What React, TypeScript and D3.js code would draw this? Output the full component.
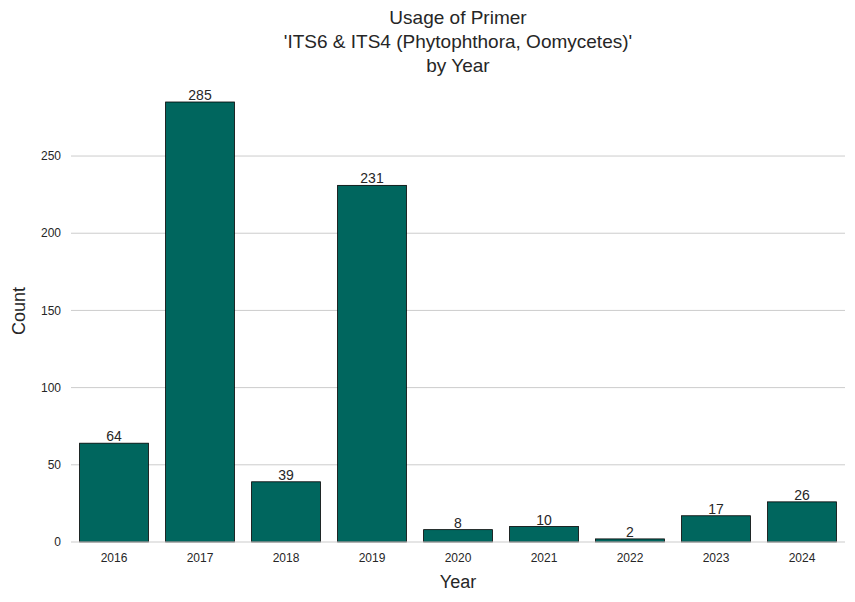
import React from "react";
import * as d3 from "d3";

const years = ["2016", "2017", "2018", "2019", "2020", "2021", "2022", "2023", "2024"];
const counts = [64, 285, 39, 231, 8, 10, 2, 17, 26];
const yTicks = [0, 50, 100, 150, 200, 250];
const titleLines = ["Usage of Primer", "'ITS6 & ITS4 (Phytophthora, Oomycetes)'", "by Year"];

const width = 855;
const height = 602;
const left = 71;
const right = 845;
const top = 80;
const bottom = 542;
const barColor = "#00665e";
const font = "'Liberation Sans', Arial, sans-serif";

export default function App() {
  const x = d3.scaleBand<string>().domain(years).range([left, right]).paddingInner(0.2).paddingOuter(0.1);
  const y = d3.scaleLinear().domain([0, d3.max(counts)! * 1.05]).range([bottom, top]);

  return (
    <svg width={width} height={height} style={{ position: "absolute", left: 0, top: 0, fontFamily: font }}>
      <rect width={width} height={height} fill="#fff" />
      {yTicks.map((t) => (
        <g key={t}>
          {t > 0 && <line x1={left} x2={right} y1={y(t)} y2={y(t)} stroke="#cccccc" strokeWidth={1} />}
          <text x={left - 10} y={y(t)} dy="0.35em" textAnchor="end" fontSize={12} fill="#262626">{t}</text>
        </g>
      ))}
      {years.map((yr, i) => (
        <g key={yr}>
          <rect
            x={x(yr)!}
            y={y(counts[i])}
            width={x.bandwidth()}
            height={bottom - y(counts[i])}
            fill={barColor}
            stroke="#000"
            strokeWidth={0.8}
          />
          <text x={x(yr)! + x.bandwidth() / 2} y={y(counts[i]) - 2} textAnchor="middle" fontSize={14} fill="#262626">
            {counts[i]}
          </text>
          <text x={x(yr)! + x.bandwidth() / 2} y={bottom + 20} textAnchor="middle" fontSize={12} fill="#262626">
            {yr}
          </text>
        </g>
      ))}
      <line x1={left} x2={right} y1={bottom} y2={bottom} stroke="#cccccc" strokeWidth={1.2} />
      {titleLines.map((l, i) => (
        <text key={i} x={(left + right) / 2} y={24 + i * 24} textAnchor="middle" fontSize={19} fill="#262626">
          {l}
        </text>
      ))}
      <text x={(left + right) / 2} y={588} textAnchor="middle" fontSize={18} fill="#262626">Year</text>
      <text transform={`translate(25, ${(top + bottom) / 2}) rotate(-90)`} textAnchor="middle" fontSize={18} fill="#262626">
        Count
      </text>
    </svg>
  );
}
